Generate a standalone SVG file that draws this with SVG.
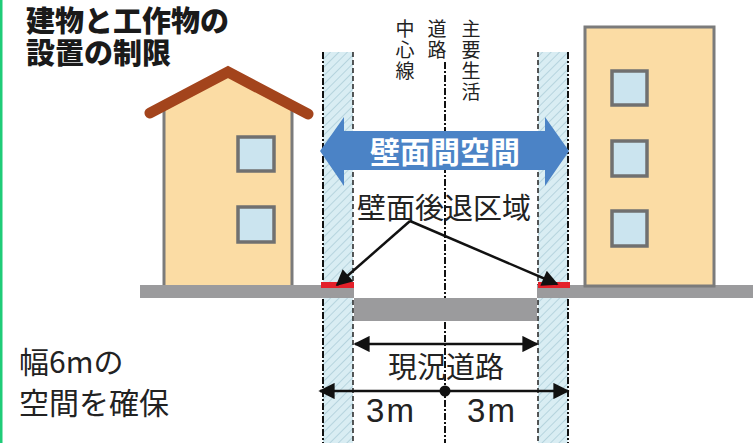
<svg xmlns="http://www.w3.org/2000/svg" width="753" height="443" viewBox="0 0 753 443">
  <defs>
    <pattern id="hatch" patternUnits="userSpaceOnUse" width="6" height="6" patternTransform="rotate(45)">
      <rect width="6" height="6" fill="#d9edf3"/>
      <line x1="0" y1="0" x2="0" y2="6" stroke="#9fc3d0" stroke-width="1.2"/>
    </pattern>
    <marker id="tip" viewBox="0 0 10 10" refX="9" refY="5" markerWidth="7" markerHeight="6.5" orient="auto-start-reverse" markerUnits="strokeWidth">
      <path d="M0,0 L10,5 L0,10 Z" fill="#111"/>
    </marker>
  </defs>
  <style>
    .jp { font-family: "Noto Sans CJK JP", "Noto Sans", sans-serif; }
    .title { font-weight: 900; font-size: 29px; fill: #1a1a1a; }
    .vert { font-size: 19px; fill: #222; writing-mode: vertical-rl; letter-spacing: 2px; }
    .lab { font-size: 29px; fill: #222; }
    .wall { fill: #fbdca4; stroke: #7b7b7b; stroke-width: 3; }
    .win { fill: #cbe4ef; stroke: #707070; stroke-width: 3.5; }
    .ground { fill: #9b9b9d; }
    .dashdot { stroke: #111; stroke-width: 2; stroke-dasharray: 7 2 2 2; fill: none; }
    .dash { stroke: #222; stroke-width: 1.5; stroke-dasharray: 5 3; fill: none; }
    .dim { stroke: #111; stroke-width: 2.5; fill: none; }
  </style>

  <rect width="753" height="443" fill="#ffffff"/>
  <!-- left accent border -->
  <rect x="0" y="0" width="2.5" height="443" fill="#1fcc78"/>

  <!-- heading -->
  <g id="title">
    <text class="jp title"><tspan x="26" y="32">建物と工作物の</tspan><tspan x="26" y="64">設置の制限</tspan></text>
  </g>

  <!-- wall setback strips -->
  <g id="setback-left">
    <rect x="323" y="52" width="30" height="391" fill="url(#hatch)"/>
    <line class="dashdot" x1="323" y1="52" x2="323" y2="443"/>
    <line class="dash" x1="353" y1="52" x2="353" y2="443"/>
  </g>
  <g id="setback-right">
    <rect x="538" y="52" width="30" height="391" fill="url(#hatch)"/>
    <line class="dash" x1="538" y1="52" x2="538" y2="443"/>
    <line class="dashdot" x1="568" y1="52" x2="568" y2="443"/>
  </g>

  <!-- road centre line -->
  <g id="centerline">
    <line class="dashdot" x1="445" y1="62" x2="445" y2="443"/>
    <text class="jp vert" x="405" y="19">中心線</text>
    <text class="jp vert" x="437" y="19">道路</text>
    <text class="jp vert" x="471" y="19">主要生活</text>
  </g>

  <!-- ground and road surface -->
  <g id="ground">
    <rect class="ground" x="140" y="285" width="214" height="13"/>
    <rect class="ground" x="354" y="298" width="183" height="23"/>
    <rect class="ground" x="537" y="285" width="216" height="13"/>
    <rect x="321" y="282" width="33" height="6" fill="#e3202a"/>
    <rect x="538" y="282" width="32" height="6" fill="#e3202a"/>
  </g>

  <!-- left house -->
  <g id="house-left">
    <polygon points="164,102 228,72 292,104 292,285 164,285" fill="#fbdca4"/>
    <line x1="164" y1="104" x2="164" y2="285" stroke="#7b7b7b" stroke-width="3"/>
    <line x1="292" y1="106" x2="292" y2="285" stroke="#7b7b7b" stroke-width="3"/>
    <polyline points="150,113 228,72 308,114" fill="none" stroke="#a3441c" stroke-width="11" stroke-linecap="round" stroke-linejoin="miter"/>
    <rect class="win" x="238" y="137" width="36" height="34"/>
    <rect class="win" x="238" y="207" width="36" height="35"/>
  </g>

  <!-- right building -->
  <g id="building-right">
    <rect class="wall" x="585" y="27" width="129" height="259"/>
    <rect class="win" x="612" y="71" width="35" height="34"/>
    <rect class="win" x="612" y="141" width="35" height="35"/>
    <rect class="win" x="612" y="211" width="35" height="35"/>
  </g>

  <!-- space between walls -->
  <g id="wall-space">
    <polygon points="320,151 344,117 344,131 545,131 545,117 569,151 545,186 545,170 344,170 344,186" fill="#4b83c6"/>
    <text class="jp" x="445" y="163" font-size="30" font-weight="700" fill="#ffffff" text-anchor="middle">壁面間空間</text>
  </g>

  <!-- setback label -->
  <g id="setback-label">
    <text class="jp lab" x="444" y="219" text-anchor="middle">壁面後退区域</text>
  </g>

  <!-- connectors -->
  <g id="connectors">
    <line class="dim" x1="410" y1="221" x2="337" y2="285" stroke-width="2" marker-end="url(#tip)"/>
    <line class="dim" x1="410" y1="221" x2="557" y2="284" stroke-width="2" marker-end="url(#tip)"/>
    <line class="dim" x1="355" y1="344" x2="537" y2="344" marker-start="url(#tip)" marker-end="url(#tip)"/>
    <line class="dim" x1="320" y1="391" x2="568" y2="391" marker-start="url(#tip)" marker-end="url(#tip)"/>
    <circle cx="445" cy="391" r="5.5" fill="#111"/>
  </g>

  <!-- dimension labels -->
  <g id="dimensions">
    <text class="jp lab" x="446" y="378" text-anchor="middle">現況道路</text>
    <text x="391" y="422" font-family="Liberation Sans, Arial, sans-serif" font-size="33" fill="#222" text-anchor="middle" letter-spacing="2">3m</text>
    <text x="492" y="422" font-family="Liberation Sans, Arial, sans-serif" font-size="33" fill="#222" text-anchor="middle" letter-spacing="2">3m</text>
  </g>

  <!-- note -->
  <g id="note" class="jp lab">
    <text x="19" y="373" style="font-size:30px">幅6mの</text>
    <text x="19" y="414" style="font-size:30px">空間を確保</text>
  </g>
</svg>
